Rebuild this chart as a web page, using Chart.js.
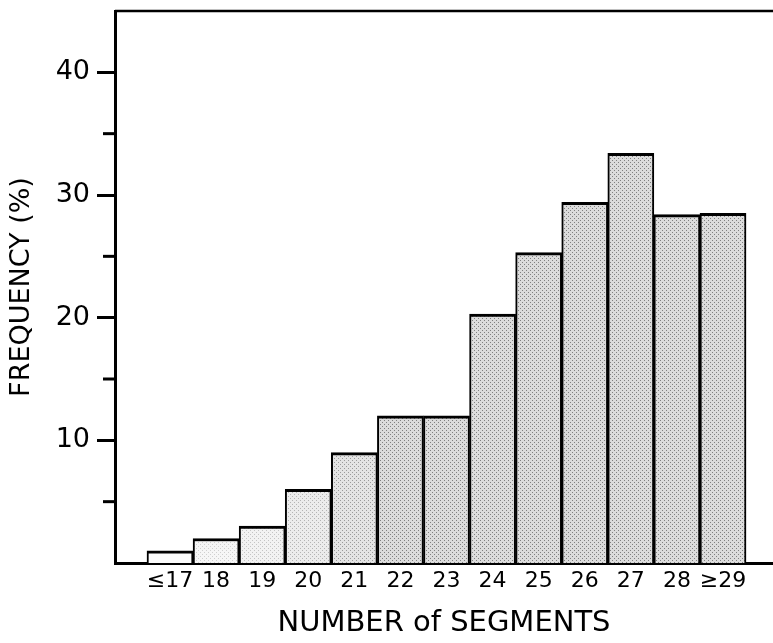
<!DOCTYPE html>
<html>
<head>
<meta charset="utf-8">
<script src="https://cdn.jsdelivr.net/npm/chart.js@4/dist/chart.umd.min.js"></script>
<style>
  html, body { margin: 0; padding: 0; background: #fff; }
  #wrap { width: 773px; height: 643px; }
</style>
</head>
<body>
<div id="wrap"><canvas id="BarChart"></canvas></div>
<script>
// segment classes and their frequencies (%)
const segmentLabels = ["\u226417", "18", "19", "20", "21", "22", "23", "24", "25", "26", "27", "28", "\u226529"];
const frequency = [1, 2, 3, 6, 9, 12, 12, 20.3, 25.3, 29.4, 33.4, 28.4, 28.5];
const majorTicks = [10, 20, 30, 40];
const minorTicks = [5, 15, 25, 35];

//stipple fill like the printed screen tone
function dots(bg, dot){
    var c = document.createElement("canvas");
    c.width = 4; c.height = 4;
    var g = c.getContext("2d");
    g.fillStyle = bg;
    g.fillRect(0, 0, 4, 4);
    g.fillStyle = dot;
    g.fillRect(0, 0, 1, 1);
    g.fillRect(2, 2, 1, 1);
    return g.createPattern(c, "repeat");
}
var ctx0 = document.getElementById("BarChart").getContext("2d");
var fills = [];
for(let i = 0; i < frequency.length; i++){
    if(i === 0) fills[i] = "#fbfbfb";
    else if(i === 1) fills[i] = dots("#f6f6f6", "#cfcfcf");
    else if(i === 2) fills[i] = dots("#f2f2f2", "#c4c4c4");
    else if(i === 3) fills[i] = dots("#ececec", "#b4b4b4");
    else if(i === 4) fills[i] = dots("#e4e4e4", "#9a9a9a");
    else fills[i] = dots("#dcdcdc", "#808080");
}
var points = frequency.map((v, i) => ({x: i, y: v}));

//extra strokes: top frame line and short minor ticks
const frame = {
    id: "frame",
    afterDraw(chart){
        const c = chart.ctx, a = chart.chartArea, y = chart.scales.y;
        c.save();
        c.strokeStyle = "#000";
        c.lineWidth = 2.5;
        c.beginPath();
        c.moveTo(a.left, a.top);
        c.lineTo(chart.width, a.top);
        c.stroke();
        c.lineWidth = 3;
        for(const v of minorTicks){
            const py = y.getPixelForValue(v);
            c.beginPath();
            c.moveTo(a.left - 12, py);
            c.lineTo(a.left, py);
            c.stroke();
        }
        c.restore();
    }
};

var config = {
    type: "bar",
    data: {
        datasets: [{
            data: points,
            backgroundColor: fills,
            borderColor: "#000",
            borderWidth: {top: 3, left: 2, right: 2, bottom: 0},
            borderSkipped: false,
            barPercentage: 1,
            categoryPercentage: 1
        }]
    },
    options: {
        responsive: true,
        maintainAspectRatio: false,
        animation: false,
        layout: { padding: { top: 11, right: 0, left: 0, bottom: 0 } },
        plugins: { legend: { display: false }, tooltip: { enabled: false } },
        scales: {
            x: {
                type: "linear",
                offset: false,
                min: -1.194,
                max: 13.085,
                afterBuildTicks: s => { s.ticks = segmentLabels.map((_, i) => ({value: i})); },
                afterFit: s => { s.height = 80; s.paddingLeft = 0; s.paddingRight = 0; },
                grid: { display: false, drawTicks: false },
                border: { display: true, color: "#000", width: 3 },
                ticks: {
                    autoSkip: false,
                    maxRotation: 0,
                    padding: 5,
                    color: "#000",
                    font: { family: "DejaVu Sans", size: 22 },
                    callback: v => segmentLabels[v]
                },
                title: {
                    display: true,
                    text: "NUMBER of SEGMENTS",
                    color: "#000",
                    font: { family: "DejaVu Sans", size: 29 },
                    padding: { top: 0, bottom: 2 }
                }
            },
            y: {
                min: 0,
                max: 45,
                afterBuildTicks: s => { s.ticks = majorTicks.map(v => ({value: v})); },
                afterFit: s => { s.width = 115; s.paddingTop = 0; s.paddingBottom = 0; },
                grid: {
                    display: true,
                    drawOnChartArea: false,
                    drawTicks: true,
                    tickLength: 18,
                    tickWidth: 3,
                    tickColor: "#000"
                },
                border: { display: true, color: "#000", width: 3 },
                ticks: {
                    padding: 7,
                    color: "#000",
                    font: { family: "DejaVu Sans", size: 27 }
                },
                title: {
                    display: true,
                    text: "FREQUENCY (%)",
                    color: "#000",
                    font: { family: "DejaVu Sans", size: 27 },
                    padding: { top: 6, bottom: 0 }
                }
            }
        }
    },
    plugins: [frame]
};
var chart = new Chart(ctx0, config);
</script>
</body>
</html>
